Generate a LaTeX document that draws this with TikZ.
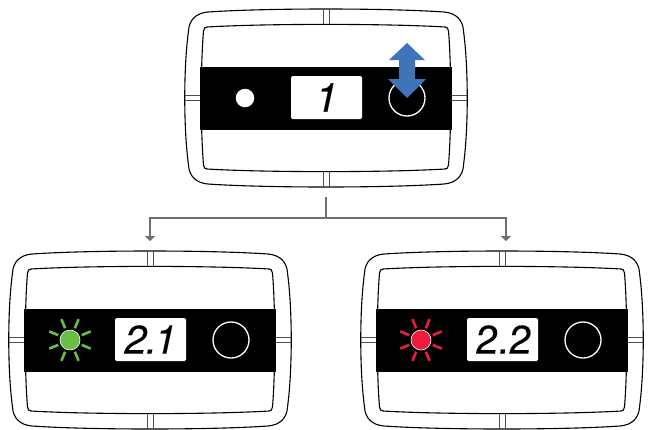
\documentclass[tikz,border=0pt]{standalone}
\usepackage{fontspec}
\setmainfont{TeX Gyre Heros}
\usetikzlibrary{arrows.meta,calc}
\definecolor{ledgreen}{HTML}{6ABD45}
\definecolor{ledred}{HTML}{ED1C3C}
\definecolor{arrowblue}{HTML}{3F74B9}
\definecolor{conn}{HTML}{6D6E6E}
\tikzset{
  x=1pt,y=-1pt,
  shell/.style={draw=black,line width=1.1pt,fill=white},
  notch/.style={draw=black!70,line width=0.9pt},
  band/.style={fill=black,draw=none},
  screen/.style={draw=none,fill=white,rounded corners=1.5pt,minimum width=71pt,minimum height=43pt,inner sep=0pt,font=\fontsize{40}{40}\selectfont\itshape},
  knob/.style={circle,draw=white,line width=1.3pt,fill=none,minimum size=36pt,inner sep=0pt},
  lamp/.style={circle,draw=white,line width=0.6pt,minimum size=20pt,inner sep=0pt},
  ray/.style={line width=2.6pt},
  link/.style={draw=conn,line width=2.8pt},
  linkend/.style={link,-{Triangle[length=5pt,width=10pt]}},
  panel/.pic={
    \path[shell] (-118,-86) .. controls (-60,-90) and (60,-90) .. (118,-86)
      .. controls (130,-85) and (137,-78) .. (137.5,-67)
      .. controls (142.5,-30) and (142.5,30) .. (137.5,67)
      .. controls (137,78) and (130,85) .. (118,86)
      .. controls (60,90) and (-60,90) .. (-118,86)
      .. controls (-130,85) and (-137,78) .. (-137.5,67)
      .. controls (-142.5,30) and (-142.5,-30) .. (-137.5,-67)
      .. controls (-137,-78) and (-130,-85) .. (-118,-86) -- cycle;
    \path[shell] (-119,-71) .. controls (-60,-74.5) and (60,-74.5) .. (119,-71)
      .. controls (121,-71) and (122,-70) .. (122.5,-67)
      .. controls (125.5,-30) and (125.5,30) .. (122.5,67)
      .. controls (122,70) and (121,71) .. (119,71)
      .. controls (60,74.5) and (-60,74.5) .. (-119,71)
      .. controls (-121,71) and (-122,70) .. (-122.5,67)
      .. controls (-125.5,30) and (-125.5,-30) .. (-122.5,-67)
      .. controls (-122,-70) and (-121,-71) .. (-119,-71) -- cycle;
    \foreach \s in {-3,3}{
      \draw[notch] (\s,-89) -- (\s,-74);
      \draw[notch] (\s,74) -- (\s,89);
      \draw[notch] (-141,\s*0.85) -- (-125,\s*0.85);
      \draw[notch] (125,\s*0.85) -- (141,\s*0.85);
    }
    \fill[band] (-126,-31.5) rectangle (126,31.5);
  }
}
\begin{document}
\begin{tikzpicture}
\useasboundingbox (0,0) rectangle (648,429);
\fill[white] (0,0) rectangle (648,429);

% top
\pic at (326,98) {panel};
\node[screen] (d1) at (326.5,97.5) {\addfontfeature{FakeBold=0.6}1\hspace{3pt}};
\node[circle,fill=white,minimum size=18.5pt,inner sep=0pt] (l1) at (245,98) {};
\node[knob] (k1) at (407,98) {};
\path[fill=arrowblue] (407,43) -- (425,60) -- (415,60) -- (415,79) -- (426,79) -- (407,98)
  -- (388,79) -- (399,79) -- (399,60) -- (389,60) -- cycle;

% left
\pic at (150,340) {panel};
\node[screen] (d2) at (150.5,339.5) {\addfontfeature{FakeBold=0.3}2\kern-1pt.\kern-2.5pt1\hspace{1pt}};
\node[lamp,fill=ledgreen] (l2) at (70,340) {};
\foreach \a in {22.5,67.5,...,337.5}
  \draw[ray,draw=ledgreen] ($(l2)+(\a:12.7)$) -- ($(l2)+(\a:22.5)$);
\node[knob] (k2) at (231,340) {};

% right
\pic at (502,340) {panel};
\node[screen] (d3) at (502.5,339.5) {\upshape\addfontfeature{FakeSlant=0.1,FakeBold=0.3}2.2};
\node[lamp,fill=ledred] (l3) at (421,340) {};
\foreach \a in {22.5,67.5,...,337.5}
  \draw[ray,draw=ledred] ($(l3)+(\a:12.7)$) -- ($(l3)+(\a:22.5)$);
\node[knob] (k3) at (583,340) {};

% connectors
\coordinate (from) at (326,197);
\coordinate (joint) at (326,218);
\coordinate (toL) at (150,241);
\coordinate (toR) at (506,241);
\draw[link] (from) -- (joint);
\draw[linkend] (joint) -| (toL);
\draw[linkend] (joint) -| (toR);
\end{tikzpicture}
\end{document}
